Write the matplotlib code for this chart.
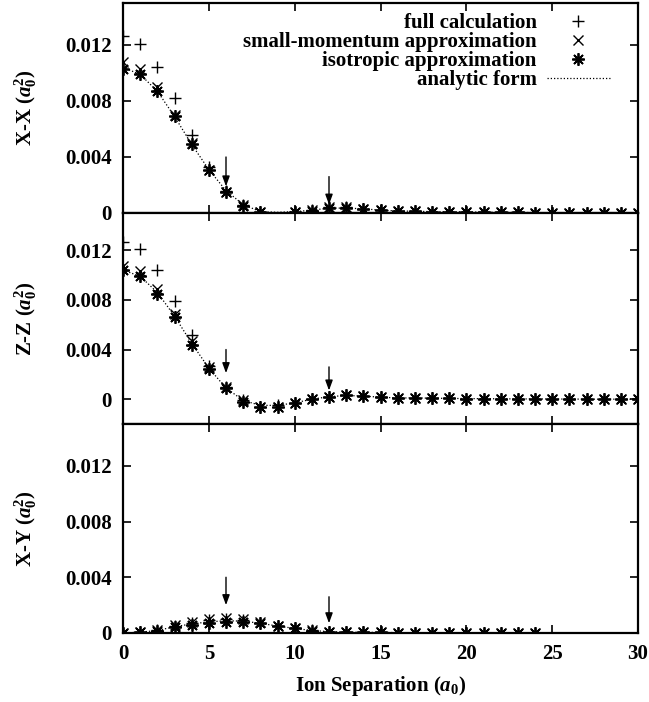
import numpy as np
import matplotlib
matplotlib.use("Agg")
import matplotlib.pyplot as plt
from matplotlib.lines import Line2D

### Style
plt.rcParams['font.family'] = ['Liberation Serif', 'DejaVu Serif']
plt.rcParams['font.weight'] = 'bold'
plt.rcParams['mathtext.fontset'] = 'custom'
plt.rcParams['mathtext.rm'] = 'Liberation Serif:bold'
plt.rcParams['mathtext.it'] = 'Liberation Serif:italic:bold'
plt.rcParams['mathtext.bf'] = 'Liberation Serif:bold'

### Data
sep = list(range(0, 31))          # ion separation, a0
sep_xy = list(range(0, 25))       # X-Y markers stop at 24
sep_xy_line = list(range(0, 28))  # X-Y analytic curve stops near 27

# X-X
xx_full = [0.01266, 0.0121, 0.01045, 0.0082, 0.0056, 0.0033, 0.0016, 0.0006, 0.0001, -0.0001,
           0.0001, 0.0002, 0.0004, 0.0004, 0.0003, 0.0002, 0.00015, 0.00012, 0.0001, 0.0001,
           0.00008, 0.00006, 0.00005, 0.00004, 0.00003, 0.00002, 0.00002, 0.00001, 0.00001, 0.0, 0.0]
xx_small = [0.0108, 0.0103, 0.0090, 0.0070, 0.0050, 0.0031, 0.0015, 0.0006, 0.0001, -0.0001,
            0.0001, 0.0002, 0.0004, 0.0004, 0.0003, 0.0002, 0.00015, 0.00012, 0.0001, 0.0001,
            0.00008, 0.00006, 0.00005, 0.00004, 0.00003, 0.00002, 0.00002, 0.00001, 0.00001, 0.0, 0.0]
xx_iso = [0.0103, 0.0099, 0.0087, 0.0069, 0.0049, 0.0031, 0.0015, 0.0005, 0.0001, -0.0001,
          0.0001, 0.00017, 0.00033, 0.00033, 0.0003, 0.0002, 0.00015, 0.00012, 0.0001, 0.0001,
          0.00008, 0.00006, 0.00005, 0.00004, 0.00003, 0.00002, 0.00002, 0.00001, 0.00001, 0.0, 0.0]
xx_analytic = [0.0104, 0.0099, 0.0087, 0.0069, 0.0049, 0.0031, 0.0016, 0.0006, 0.0001, 0.00005,
               0.0001, 0.0002, 0.00035, 0.00035, 0.0003, 0.0002, 0.00015, 0.00012, 0.0001, 0.0001,
               0.00008, 0.00006, 0.00005, 0.00004, 0.00003, 0.00002, 0.00002, 0.00001, 0.00001, 0.0, 0.0]

# Z-Z
zz_full = [0.01266, 0.0121, 0.0104, 0.00795, 0.0052, 0.0027, 0.0010, -0.0001, -0.0006, -0.0005,
           -0.0003, 0.0, 0.0002, 0.0003, 0.00025, 0.00016, 0.0001, 0.0001, 0.00008, 0.00006,
           0.00005, 0.00004, 0.00003, 0.00002, 0.00002, 0.00001, 0.00001, 0.0, 0.0, 0.0, 0.0]
zz_small = [0.01075, 0.0103, 0.0089, 0.0069, 0.0047, 0.0026, 0.0010, -0.0001, -0.0006, -0.0006,
            -0.0003, 0.0, 0.0002, 0.0003, 0.00025, 0.00016, 0.0001, 0.0001, 0.00008, 0.00006,
            0.00005, 0.00004, 0.00003, 0.00002, 0.00002, 0.00001, 0.00001, 0.0, 0.0, 0.0, 0.0]
zz_iso = [0.0104, 0.0099, 0.0085, 0.0066, 0.0044, 0.0024, 0.0009, -0.0002, -0.0006, -0.0006,
          -0.0003, 0.0, 0.0002, 0.0003, 0.00025, 0.00016, 0.0001, 0.0001, 0.00008, 0.00006,
          0.00005, 0.00004, 0.00003, 0.00002, 0.00002, 0.00001, 0.00001, 0.0, 0.0, 0.0, 0.0]
zz_analytic = [0.0104, 0.0099, 0.0086, 0.0067, 0.0045, 0.0025, 0.0009, -0.0001, -0.0005, -0.0005,
               -0.0003, 0.0, 0.0002, 0.0003, 0.00025, 0.00016, 0.0001, 0.0001, 0.00008, 0.00006,
               0.00005, 0.00004, 0.00003, 0.00002, 0.00002, 0.00001, 0.00001, 0.0, 0.0, 0.0, 0.0]

# X-Y
xy_full = [0.0, 0.00006, 0.0002, 0.0005, 0.0007, 0.0009, 0.001, 0.0009, 0.00075, 0.0005,
           0.00034, 0.00018, 0.0001, 0.00007, 0.00005, 0.00004, 0.00003, 0.00002, 0.00002, 0.00001,
           0.00001, 0.00001, 0.0, 0.0, 0.0]
xy_small = [0.0, 0.00007, 0.0002, 0.0006, 0.0008, 0.00098, 0.0011, 0.001, 0.0008, 0.0005,
            0.00035, 0.0002, 0.0001, 0.00007, 0.00005, 0.00004, 0.00003, 0.00002, 0.00002, 0.00001,
            0.00001, 0.00001, 0.0, 0.0, 0.0]
xy_iso = [0.0, 0.00005, 0.00017, 0.0004, 0.00057, 0.00074, 0.0008, 0.0008, 0.0007, 0.0005,
          0.00033, 0.00017, 0.0001, 0.00007, 0.00005, 0.00004, 0.00003, 0.00002, 0.00002, 0.00001,
          0.00001, 0.00001, 0.0, 0.0, 0.0]
xy_analytic = [0.0, 0.00006, 0.00018, 0.00045, 0.00065, 0.0008, 0.00088, 0.00085, 0.0007, 0.0005,
               0.00033, 0.00018, 0.0001, 0.00007, 0.00005, 0.00004, 0.00003, 0.00002, 0.00002, 0.00001,
               0.00001, 0.00001, 0.0, 0.0, 0.0, 0.0, 0.0, 0.0]

# arrows marking the two special separations
arrow_x = [6, 12]
xx_arrow_from = [0.0040, 0.0026]
xx_arrow_to = [0.0019, 0.0006]
zz_arrow_from = [0.0040, 0.0026]
zz_arrow_to = [0.0021, 0.0007]
xy_arrow_from = [0.0040, 0.0026]
xy_arrow_to = [0.0020, 0.0007]

ytick_vals = [0, 0.004, 0.008, 0.012]
ytick_labels = ['0', '0.004', '0.008', '0.012']
xtick_vals = [0, 5, 10, 15, 20, 25, 30]

FS = 15
asterisk = (8, 2, 0)


def draw_points(ax, x, y, marker, lo, **kw):
    # gnuplot does not draw points lying outside the y range
    x = np.asarray(x, float)
    y = np.asarray(y, float)
    keep = y >= lo
    ax.plot(x[keep], y[keep], ls='none', marker=marker, color='k', **kw)


def panel(ax, ylo, full, small, iso, xs, analytic, xs_line, a_from, a_to, label):
    ax.plot(xs_line, analytic, color='k', lw=0.9, ls=(0, (1, 1.6)))
    draw_points(ax, xs, full, '+', ylo, ms=8, mew=1.0)
    draw_points(ax, xs, small, 'x', ylo, ms=7, mew=1.0)
    draw_points(ax, xs, iso, asterisk, ylo, ms=9, mew=1.3)
    for i in range(len(arrow_x)):
        ax.annotate('', xy=(arrow_x[i], a_to[i]), xytext=(arrow_x[i], a_from[i]),
                    arrowprops=dict(arrowstyle='-|>,head_length=0.6,head_width=0.22',
                                    color='k', lw=1.0, mutation_scale=10,
                                    shrinkA=0, shrinkB=0))
    ax.set_xlim(0, 30)
    ax.set_ylim(ylo, 0.015)
    ax.set_yticks(ytick_vals)
    ax.set_yticklabels(ytick_labels)
    ax.set_xticks(xtick_vals)
    ax.tick_params(direction='in', top=True, right=True, length=6, width=1.2,
                   labelsize=FS, pad=8)
    for s in ax.spines.values():
        s.set_linewidth(1.6)
    ax.set_ylabel(label, fontsize=FS, fontweight='bold', labelpad=19)


fig = plt.figure(figsize=(6.49, 7.02), dpi=100)
L, W = 123 / 649, (638 - 123) / 649
ax1 = fig.add_axes([L, 1 - 213 / 702, W, 210 / 702])
ax2 = fig.add_axes([L, 1 - 424 / 702, W, 211 / 702])
ax3 = fig.add_axes([L, 1 - 633 / 702, W, 209 / 702])

panel(ax1, 0.0, xx_full, xx_small, xx_iso, sep, xx_analytic, sep,
      xx_arrow_from, xx_arrow_to, r'X-X ($a_0^2$)')
panel(ax2, -0.002, zz_full, zz_small, zz_iso, sep, zz_analytic, sep,
      zz_arrow_from, zz_arrow_to, r'Z-Z ($a_0^2$)')
panel(ax3, 0.0, xy_full, xy_small, xy_iso, sep_xy, xy_analytic, sep_xy_line,
      xy_arrow_from, xy_arrow_to, r'X-Y ($a_0^2$)')

ax1.tick_params(labelbottom=False)
ax2.tick_params(labelbottom=False)
ax3.set_xlabel(r'Ion Separation ($a_0$)', fontsize=FS, fontweight='bold', labelpad=7)
fig.align_ylabels([ax1, ax2, ax3])

handles = [
    Line2D([], [], ls='none', marker='+', color='k', ms=8, mew=1.0),
    Line2D([], [], ls='none', marker='x', color='k', ms=7, mew=1.0),
    Line2D([], [], ls='none', marker=asterisk, color='k', ms=9, mew=1.3),
    Line2D([], [], color='k', lw=0.9, ls=(0, (1, 1.6))),
]
labels = ['full calculation', 'small-momentum approximation',
          'isotropic approximation', 'analytic form']
ax1.legend(handles, labels, loc='upper right', frameon=False, markerfirst=False,
           fontsize=FS, handlelength=3.0, handletextpad=0.5, labelspacing=-0.05,
           borderaxespad=0.3, borderpad=0.2, bbox_to_anchor=(0.965, 1.0))

fig.savefig('out.png', dpi=100)
